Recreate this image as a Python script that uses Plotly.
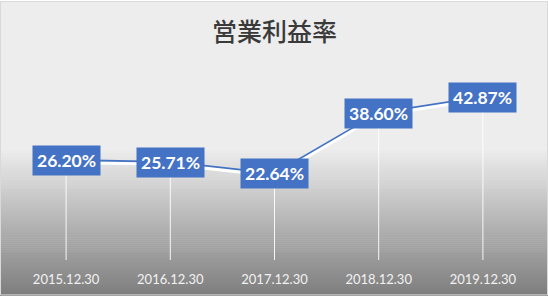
import plotly.graph_objects as go

categories = ["2015.12.30", "2016.12.30", "2017.12.30", "2018.12.30", "2019.12.30"]
values = [26.20, 25.71, 22.64, 38.60, 42.87]
labels = ["26.20%", "25.71%", "22.64%", "38.60%", "42.87%"]
title_text = "営業利益率"

W, H = 548, 299
ML, MR, MT, MB = 14, 13, 70, 36
plot_h = H - MT - MB
YMAX = 50.0
shadow_px = 2.0
d = shadow_px * YMAX / plot_h

BLUE = "#4472C4"

fig = go.Figure()
# drop lines from points to the axis
fig.add_trace(go.Scatter(x=categories, y=values, mode="markers",
                         marker=dict(size=0.1, color="rgba(0,0,0,0)"),
                         error_y=dict(type="data", symmetric=False, array=[0] * len(values),
                                      arrayminus=values, color="rgba(255,255,255,0.9)", thickness=1, width=0),
                         hoverinfo="skip", showlegend=False))
# white shadow line (drawn on shifted overlay axis)
fig.add_trace(go.Scatter(x=categories, y=values, mode="lines",
                         line=dict(color="white", width=3),
                         xaxis="x", yaxis="y2", hoverinfo="skip", showlegend=False))
fig.add_trace(go.Scatter(x=categories, y=values, mode="lines",
                         line=dict(color=BLUE, width=2.75),
                         showlegend=False))

for c, v, t in zip(categories, values, labels):
    fig.add_annotation(x=c, y=v, xref="x", yref="y", text=t, showarrow=False,
                       font=dict(family="Lato", size=17.5, color="white", weight="bold"),
                       bgcolor=BLUE, borderpad=4, xanchor="center", yanchor="middle")

def py2paper(py):
    return (H - MB - py) / plot_h

def px2paper(px):
    return (px - ML) / (W - ML - MR)

shapes = []
start, end = 150, 299
shapes.append(dict(type="rect", xref="paper", yref="paper", layer="below",
                   x0=px2paper(0), x1=px2paper(W), y0=py2paper(0), y1=py2paper(start),
                   fillcolor="rgb(237,237,237)", line=dict(width=0)))
c0, c1 = 237, 125
step = 2
y = start
while y < end:
    y2 = min(y + step, end)
    f = (y + step / 2 - start) / (end - start)
    c = int(round(c0 + (c1 - c0) * f))
    shapes.append(dict(type="rect", xref="paper", yref="paper", layer="below",
                       x0=px2paper(0), x1=px2paper(W), y0=py2paper(y), y1=py2paper(y2 + 0.5),
                       fillcolor=f"rgb({c},{c},{c})", line=dict(width=0)))
    y = y2
shapes.append(dict(type="rect", xref="paper", yref="paper", layer="above",
                   x0=px2paper(0.5), x1=px2paper(W - 0.5), y0=py2paper(0.5), y1=py2paper(H - 0.5),
                   fillcolor="rgba(0,0,0,0)", line=dict(color="#d9d9d9", width=1)))

fig.update_layout(
    width=W, height=H,
    margin=dict(l=ML, r=MR, t=MT, b=MB),
    paper_bgcolor="rgba(0,0,0,0)", plot_bgcolor="rgba(0,0,0,0)",
    shapes=shapes,
    title=dict(text=title_text, x=0.5, xanchor="center", xref="paper",
               y=1 - 32 / H, yanchor="middle", yref="container",
               font=dict(family="Noto Sans CJK JP", size=25, color="#3a3a3a", weight=500)),
    xaxis=dict(type="category", range=[-0.5, 4.5], showgrid=False,
               zeroline=False, showline=False, ticks="", ticklabelstandoff=10,
               tickfont=dict(family="Lato", size=13, color="#f2f2f2")),
    yaxis=dict(range=[0, YMAX], showgrid=False, zeroline=False, showticklabels=False, showline=False),
    yaxis2=dict(range=[0 + d, YMAX + d], overlaying="y", showgrid=False, zeroline=False,
                showticklabels=False, showline=False),
    showlegend=False,
)

fig.write_html("out.html")
